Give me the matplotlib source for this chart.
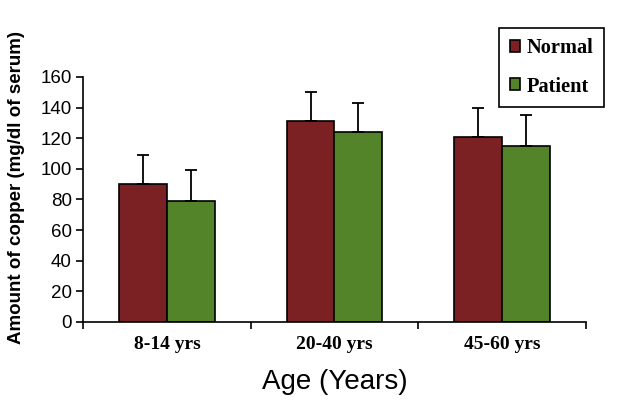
import numpy as np
import matplotlib.pyplot as plt

# data
age_groups = ['8-14 yrs', '20-40 yrs', '45-60 yrs']
normal = [90, 131, 121]
normal_sd = [19, 19, 19]
patient = [79, 124, 115]
patient_sd = [20, 19, 20]

red = '#7b2124'
green = '#548429'

fig = plt.figure(figsize=(6.2, 4.07), dpi=100)
ax = fig.add_axes([0.134, 0.209, 0.811, 0.602])

x = np.arange(len(age_groups))
w = 0.285
err_kw = dict(ecolor='black', elinewidth=1.3, capsize=4, capthick=1.3)
b1 = ax.bar(x - w/2, normal, w, color=red, edgecolor='black', linewidth=1.2,
            yerr=[np.zeros(3), normal_sd], error_kw=err_kw, label='Normal')
b2 = ax.bar(x + w/2, patient, w, color=green, edgecolor='black', linewidth=1.2,
            yerr=[np.zeros(3), patient_sd], error_kw=err_kw, label='Patient')

ax.set_xlim(-0.5, 2.5)
ax.set_ylim(0, 160)
ax.set_yticks(np.arange(0, 161, 20))
ax.set_xticks(x)
ax.set_xticklabels(age_groups, family='Liberation Serif', fontweight='bold', fontsize=14)
ax.set_xticks(np.arange(-0.5, 2.6, 1), minor=True)
ax.tick_params(axis='x', which='major', length=0, pad=10)
ax.tick_params(axis='x', which='minor', length=5, width=1.2, direction='out')
ax.tick_params(axis='y', length=5, width=1.2, direction='out', pad=3)
for lab in ax.get_yticklabels():
    lab.set_family('Liberation Sans')
    lab.set_fontsize(13.5)

for s in ['top', 'right']:
    ax.spines[s].set_visible(False)
for s in ['left', 'bottom']:
    ax.spines[s].set_linewidth(1.2)

ax.set_ylabel('Amount of copper (mg/dl of serum)', family='Liberation Sans',
              fontweight='bold', fontsize=13.5)
ax.yaxis.set_label_coords(-0.115, 0.55)
ax.set_xlabel('Age (Years)', family='Liberation Sans', fontsize=20, labelpad=12)

leg = ax.legend(loc='upper right', bbox_to_anchor=(1.036, 1.20), borderaxespad=0,
                prop={'family': 'Liberation Serif', 'weight': 'bold', 'size': 14.7},
                handlelength=0.5, handleheight=0.5, handletextpad=0.35,
                labelspacing=0.9, borderpad=0.5, fancybox=False,
                edgecolor='black', framealpha=1)
leg.get_frame().set_linewidth(1.2)

plt.savefig('out.png', dpi=100)
